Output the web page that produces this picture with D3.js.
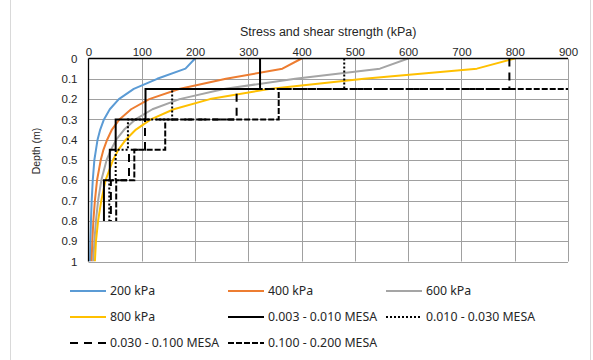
<!DOCTYPE html>
<html>
<head>
<meta charset="utf-8">
<script src="https://cdn.jsdelivr.net/npm/d3@7"></script>
<style>
  body { margin: 0; background: #fff; }
</style>
</head>
<body>
<div id="chart"></div>
<script>
// Stress distribution under the load (kPa) at each depth (m)
const depths = [0, 0.05, 0.1, 0.15, 0.2, 0.25, 0.3, 0.35, 0.4, 0.45, 0.5, 0.6, 0.7, 0.8, 0.9, 1.0];
const stress200 = [200, 182, 129, 85, 57, 40, 29, 22, 17, 14, 11, 8, 6, 4.6, 3.6, 3.0];
const stress400 = [400, 364, 258, 170, 114, 80, 58, 44, 35, 28, 23, 16, 12, 9.1, 7.2, 5.9];
const stress600 = [600, 547, 388, 254, 171, 120, 88, 67, 52, 42, 34, 24, 18, 14, 11, 8.9];
const stress800 = [800, 729, 517, 339, 228, 160, 117, 89, 70, 56, 46, 32, 24, 18, 14, 12];

// Required shear strength (kPa) per layer, layers bounded by these depths (m)
const layerDepths = [0, 0.15, 0.3, 0.45, 0.6, 0.8];
const mesa1 = [322, 107, 51, 40, 29];
const mesa2 = [480, 157, 74, 51, 39];
const mesa3 = [790, 278, 106, 76, 42];
const mesa4 = [1000, 357, 144, 86, 52];

const seriesNames = ['200 kPa', '400 kPa', '600 kPa', '800 kPa',
  '0.003 - 0.010 MESA', '0.010 - 0.030 MESA', '0.030 - 0.100 MESA', '0.100 - 0.200 MESA'];

const xTicks = [0, 100, 200, 300, 400, 500, 600, 700, 800, 900];
const yTicks = [0, 0.1, 0.2, 0.3, 0.4, 0.5, 0.6, 0.7, 0.8, 0.9, 1];
const yTickLabels = ['0', '0.1', '0.2', '0.3', '0.4', '0.5', '0.6', '0.7', '0.8', '0.9', '1'];

const xTitle = 'Stress and shear strength (kPa)';
const yTitle = 'Depth  (m)';

// Styles
const styles = [
  { color: '#5B9BD5', dash: null },
  { color: '#ED7D31', dash: null },
  { color: '#A5A5A5', dash: null },
  { color: '#FFC000', dash: null },
  { color: '#000', dash: null },
  { color: '#000', dash: '2,2' },
  { color: '#000', dash: '8,6' },
  { color: '#000', dash: '6,2' }
];

const W = 593, H = 360;
const plot = { left: 88.5, right: 568, top: 58.5, bottom: 261.5 };
const axisFont = 'Liberation Sans, Arial, sans-serif';
const legendFont = 'Noto Sans, Open Sans, sans-serif';

const x = d3.scaleLinear().domain([0, 900]).range([plot.left, plot.right]);
const y = d3.scaleLinear().domain([0, 1]).range([plot.top, plot.bottom]);

const svg = d3.select('#chart')
  .append('svg')
  .attr('width', W)
  .attr('height', H);

// Chart area border
svg.append('rect')
  .attr('x', 10.5).attr('y', -5)
  .attr('width', 580).attr('height', 380)
  .attr('fill', 'none')
  .attr('stroke', '#d9d9d9');

// Gridlines
const grid = svg.append('g').attr('stroke', '#a0a0a0').attr('stroke-width', 1);
grid.selectAll('.vg')
  .data(xTicks.slice(1))
  .join('line')
  .attr('x1', (d) => Math.round(x(d)) + 0.5)
  .attr('x2', (d) => Math.round(x(d)) + 0.5)
  .attr('y1', plot.top)
  .attr('y2', plot.bottom);
grid.selectAll('.hg')
  .data(yTicks.slice(1))
  .join('line')
  .attr('x1', plot.left)
  .attr('x2', plot.right)
  .attr('y1', (d) => Math.round(y(d)) + 0.5)
  .attr('y2', (d) => Math.round(y(d)) + 0.5);

// Clip for series
svg.append('defs')
  .append('clipPath')
  .attr('id', 'plot-clip')
  .append('rect')
  .attr('x', plot.left)
  .attr('y', plot.top - 1)
  .attr('width', plot.right - plot.left)
  .attr('height', plot.bottom - plot.top + 1);

const content = svg.append('g').attr('clip-path', 'url(#plot-clip)');

// Stress curves
const curveLine = d3.line()
  .x((d) => x(d[1]))
  .y((d) => y(d[0]));

[stress200, stress400, stress600, stress800].forEach((vals, i) => {
  content.append('path')
    .datum(depths.map((d, j) => [d, vals[j]]))
    .attr('d', curveLine)
    .attr('fill', 'none')
    .attr('stroke', styles[i].color)
    .attr('stroke-width', 2)
    .attr('stroke-linejoin', 'round');
});

// Step lines for required shear strength
const stepPoints = (vals) => {
  const pts = [];
  vals.forEach((v, i) => {
    pts.push([layerDepths[i], v]);
    pts.push([layerDepths[i + 1], v]);
  });
  return pts;
};
const stepLine = d3.line()
  .x((d) => x(d[1]))
  .y((d) => y(d[0]));

[mesa1, mesa2, mesa3, mesa4].forEach((vals, i) => {
  const st = styles[i + 4];
  content.append('path')
    .datum(stepPoints(vals))
    .attr('d', stepLine)
    .attr('fill', 'none')
    .attr('stroke', st.color)
    .attr('stroke-width', 2)
    .attr('stroke-dasharray', st.dash);
});

// Axes
const xAxis = d3.axisTop(x).tickValues(xTicks).tickSize(0).tickPadding(3);
const gx = svg.append('g')
  .attr('transform', `translate(0,${plot.top})`)
  .call(xAxis);
gx.select('.domain').remove();
gx.selectAll('text')
  .attr('font-family', axisFont)
  .attr('font-size', 11.5)
  .attr('fill', '#262626');

const yAxis = d3.axisLeft(y).tickValues(yTicks).tickSize(0).tickPadding(11)
  .tickFormat((d, i) => yTickLabels[i]);
const gy = svg.append('g')
  .attr('transform', `translate(${plot.left},0)`)
  .call(yAxis);
gy.select('.domain').remove();
gy.selectAll('text')
  .attr('font-family', axisFont)
  .attr('font-size', 11.5)
  .attr('fill', '#262626');

// Axis lines
svg.append('line')
  .attr('x1', plot.left).attr('x2', plot.right)
  .attr('y1', plot.top).attr('y2', plot.top)
  .attr('stroke', '#000').attr('stroke-width', 1.3);
svg.append('line')
  .attr('x1', plot.left).attr('x2', plot.left)
  .attr('y1', plot.top).attr('y2', plot.bottom)
  .attr('stroke', '#000').attr('stroke-width', 1.3);

// Axis titles
svg.append('text')
  .attr('x', (plot.left + plot.right) / 2)
  .attr('y', 36)
  .attr('text-anchor', 'middle')
  .attr('font-family', axisFont)
  .attr('font-size', 12.5)
  .attr('fill', '#262626')
  .text(xTitle);

svg.append('text')
  .attr('transform', 'translate(40,151) rotate(-90)')
  .attr('text-anchor', 'middle')
  .attr('font-family', axisFont)
  .attr('font-size', 10.5)
  .attr('fill', '#262626')
  .text(yTitle);

// Legend
const legend = svg.append('g');
const items = legend.selectAll('g')
  .data(seriesNames)
  .join('g')
  .attr('transform', (d, i) => `translate(${70 + (i % 3) * 158},${291 + Math.floor(i / 3) * 26})`);
items.append('line')
  .attr('x1', 0).attr('x2', 36)
  .attr('stroke', (d, i) => styles[i].color)
  .attr('stroke-width', 2)
  .attr('stroke-dasharray', (d, i) => styles[i].dash);
items.append('text')
  .attr('x', 40)
  .attr('dy', '0.35em')
  .attr('font-family', legendFont)
  .attr('font-size', 12.3)
  .attr('fill', '#262626')
  .text((d) => d);
</script>
</body>
</html>
